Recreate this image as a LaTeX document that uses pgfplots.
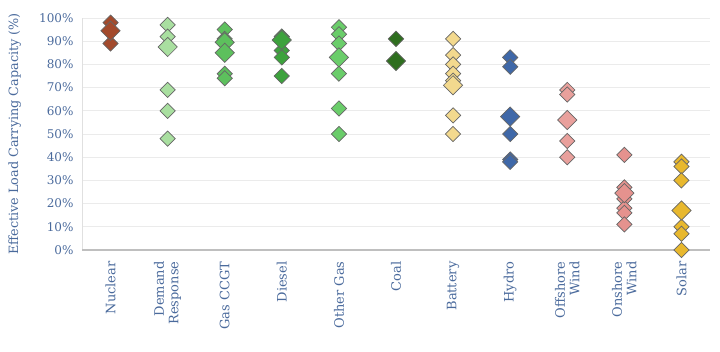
\documentclass[border=0pt]{standalone}
\usepackage{pgfplots}
\pgfplotsset{compat=1.18}
\usepackage{fontspec}
\setmainfont{DejaVu Serif}
\definecolor{txt}{HTML}{4A6A9C}
\definecolor{cNuc}{HTML}{A34A2C}
\definecolor{cDR}{HTML}{A9DFA0}
\definecolor{cCCGT}{HTML}{5DC05D}
\definecolor{cDie}{HTML}{3DA23D}
\definecolor{cOG}{HTML}{6ACD6A}
\definecolor{cCoal}{HTML}{2F6E1F}
\definecolor{cBat}{HTML}{F3D98E}
\definecolor{cHyd}{HTML}{3F68A8}
\definecolor{cOff}{HTML}{E9A09C}
\definecolor{cOn}{HTML}{E5928E}
\definecolor{cSol}{HTML}{E8B82E}
\pgfplotsset{dia/.style={only marks, mark=square*, mark size=5.4pt,
     mark options={rotate=45, draw=black!60, line width=0.7pt, fill=#1}},
  big/.style={mark size=6.8pt}}
\begin{document}
\begin{tikzpicture}[x=1pt,y=1pt]
\begin{axis}[
  scale only axis,
  width=628pt, height=232pt,
  xmin=-0.5, xmax=10.5, ymin=0, ymax=100,
  clip=false,
  axis line style={draw=none},
  xtick={0,...,10},
  xticklabels={Nuclear,Demand\\Response,Gas CCGT,Diesel,Other Gas,Coal,Battery,Hydro,Offshore\\Wind,Onshore\\Wind,Solar},
  xticklabel style={rotate=90, anchor=east, align=right, font=\fontsize{13}{14.5}\selectfont, text=txt},
  xticklabel shift=8pt,
  major tick length=0pt,
  ytick={0,10,...,100},
  yticklabel={\pgfmathprintnumber{\tick}\%},
  yticklabel style={font=\fontsize{12}{13}\selectfont, text=txt},
  yticklabel shift=5pt,
  /pgf/number format/assume math mode=true,
  ymajorgrids,
  grid style={draw=black!8, line width=0.6pt},
  ylabel={Effective Load Carrying Capacity (\%)},
  ylabel style={font=\fontsize{12.8}{14}\selectfont, text=txt, at={(axis description cs:-0.107,0.5)}, anchor=center},
]
\addplot[dia=cNuc] coordinates {(0,98)(0,89)};
\addplot[dia=cNuc, big] coordinates {(0,94.5)};
\addplot[dia=cDR] coordinates {(1,97)(1,92)(1,69)(1,60)(1,48)};
\addplot[dia=cDR, big] coordinates {(1,87.5)};
\addplot[dia=cCCGT] coordinates {(2,95)(2,91)(2,76)(2,74)};
\addplot[dia=cCCGT, big] coordinates {(2,89.5)(2,85)};
\addplot[dia=cDie] coordinates {(3,92)(3,86)(3,83)(3,75)};
\addplot[dia=cDie, big] coordinates {(3,90.5)};
\addplot[dia=cOG] coordinates {(4,96)(4,93)(4,89)(4,76)(4,61)(4,50)};
\addplot[dia=cOG, big] coordinates {(4,83)};
\addplot[dia=cCoal] coordinates {(5,91)};
\addplot[dia=cCoal, big] coordinates {(5,81.5)};
\addplot[dia=cBat] coordinates {(6,91)(6,84)(6,80)(6,76)(6,73)(6,58)(6,50)};
\addplot[dia=cBat, big] coordinates {(6,71)};
\addplot[dia=cHyd] coordinates {(7,83)(7,79)(7,50)(7,39)(7,38)};
\addplot[dia=cHyd, big] coordinates {(7,57.5)};
\addplot[dia=cOff] coordinates {(8,69)(8,67)(8,47)(8,40)};
\addplot[dia=cOff, big] coordinates {(8,56)};
\addplot[dia=cOn] coordinates {(9,41)(9,27)(9,22)(9,18)(9,16)(9,11)};
\addplot[dia=cOn, big] coordinates {(9,24.5)};
\addplot[dia=cSol] coordinates {(10,38)(10,36)(10,30)(10,10)(10,7)(10,0)};
\addplot[dia=cSol, big] coordinates {(10,17)};
\draw[black!12, line width=0.6pt] (rel axis cs:0,0) -- (rel axis cs:0,1);
\draw[black!25, line width=1.4pt] (rel axis cs:0,0) -- (rel axis cs:1,0);
\coordinate (sw) at (rel axis cs:0,0);
\coordinate (ne) at (rel axis cs:1,1);
\end{axis}
\pgfresetboundingbox
\path ([shift={(-82pt,-102pt)}]sw) rectangle ([shift={(10pt,18pt)}]ne);
\end{tikzpicture}
\end{document}
